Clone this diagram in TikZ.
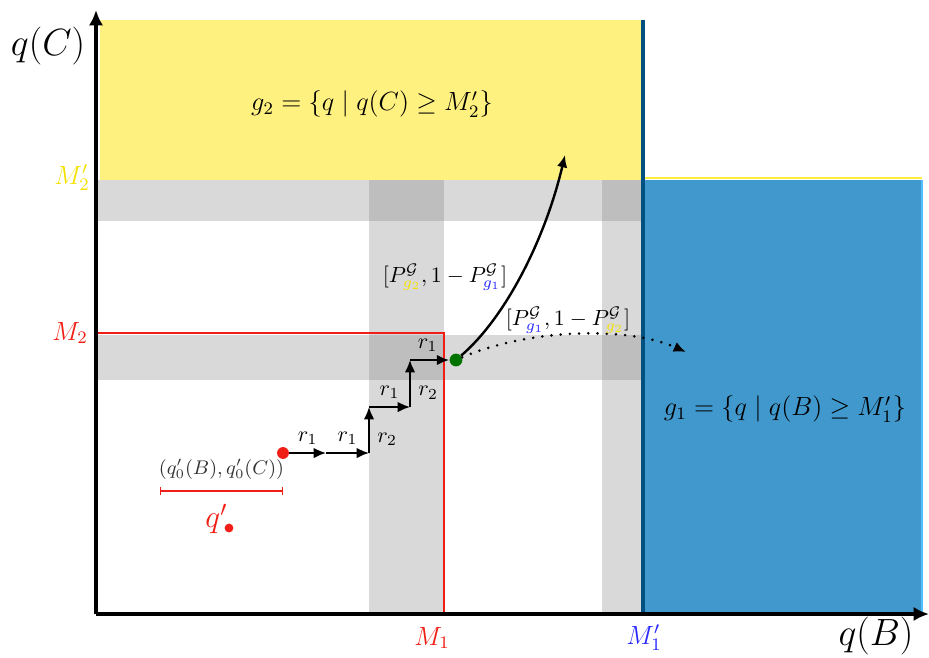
\documentclass[tikz,border=0pt]{standalone}
\usepackage{amsmath}
\usepackage{amssymb}
\usetikzlibrary{positioning,arrows.meta}
\definecolor{gtwofill}{RGB}{255,241,128}
\definecolor{gtwoedge}{RGB}{255,236,60}
\definecolor{gtwotext}{RGB}{245,225,0}
\definecolor{gonefill}{RGB}{65,152,204}
\definecolor{gonedge}{RGB}{0,80,130}
\definecolor{goneside}{RGB}{80,190,255}
\definecolor{gonetext}{RGB}{40,40,255}
\definecolor{dotgreen}{RGB}{0,115,0}
\definecolor{mred}{RGB}{240,30,20}

\begin{document}
\begin{tikzpicture}[x=0.016cm, y=-0.016cm, >={Latex[length=5.6pt,width=4.8pt]},
  band/.style={fill=black!50, fill opacity=0.3},
  axis/.style={-{Latex[length=7pt,width=6.5pt]}, line width=1.4pt},
  stepar/.style={->, line width=0.9pt},
  dot/.style={circle, fill, inner sep=0pt, minimum size=#1},
  every label/.style={inner sep=1pt}]
\useasboundingbox (0,0) rectangle (929,657);
\fill[gtwofill] (100,20) rectangle (641,180);
\fill[gonefill] (643,180) rectangle (922,612);
\draw[gtwoedge, line width=1.3pt] (643,178) -- (922,178);
\draw[goneside, line width=0.8pt] (922,180) -- (922,612);
\fill[band] (96,180) rectangle (641,221);
\fill[band] (96,335) rectangle (641,380);
\fill[band] (369,180) rectangle (444,614);
\fill[band] (602,180) rectangle (641,614);
\draw[mred, line width=1pt] (96,333) -| (444,614);
\draw[gonedge, line width=1.4pt] (643,20) -- (643,614);

\coordinate (o) at (96,614);
\coordinate (ytop) at (96,10);
\coordinate (xend) at (929,614);
\draw[axis] (o) -- (ytop);
\draw[axis] (o) -- (xend);

\node[font=\LARGE] (qc) at (48,46) {$q(C)$};
\node[font=\LARGE] (qb) at (876,636) {$q(B)$};
\node[font=\large, text=gtwotext] (m2p) at (72,178) {$M_2'$};
\node[font=\large, text=mred] (m2) at (70,333) {$M_2$};
\node[font=\large, text=mred] (m1) at (432,638) {$M_1$};
\node[font=\large, text=gonetext] (m1p) at (644,638) {$M_1'$};

\node[font=\large] (g2) at (372,104) {$g_2 = \{q \mid q(C) \geq M_2'\}$};
\node[font=\large] (g1) at (785,409) {$g_1 = \{q \mid q(B) \geq M_1'\}$};

\node[dot=5.4pt, mred] (s0) at (283,453) {};
\coordinate (s1) at (326,453);
\coordinate (s2) at (369,453);
\coordinate (s3) at (369,407);
\coordinate (s4) at (410,407);
\coordinate (s5) at (410,360);
\node[dot=5.8pt, dotgreen] (s6) at (456,360) {};
\draw[stepar] (s0) -- node[above] {$r_1$} (s1);
\draw[stepar] (s1) -- node[above] {$r_1$} (s2);
\draw[stepar] (s2) -- node[right, pos=0.3] {$r_2$} (s3);
\draw[stepar] (s3) -- node[above] {$r_1$} (s4);
\draw[stepar] (s4) -- node[right, pos=0.3] {$r_2$} (s5);
\draw[stepar] (s5) -- node[above, pos=0.45] {$r_1$} (s6);

\coordinate (up) at (565,155);
\coordinate (right) at (686,352);
\draw[->, line width=1.1pt] (s6) .. controls (505,318) and (545,240) .. (up);
\draw[->, line width=1.3pt, line cap=round, dash pattern=on 0pt off 4.2pt] (s6) .. controls (525,330) and (625,325) .. (right);
\node (pup) at (445,277) {$[P^{\mathcal{G}}_{\color{gtwotext}g_2}, 1 - P^{\mathcal{G}}_{\color{gonetext}g_1}]$};
\node (pright) at (568,320) {$[P^{\mathcal{G}}_{\color{gonetext}g_1}, 1 - P^{\mathcal{G}}_{\color{gtwotext}g_2}]$};

\coordinate (ia) at (160,491);
\coordinate (ib) at (283,491);
\draw[mred, {Bar[width=4pt]}-{Bar[width=4pt]}, line width=0.5pt] (ia) -- node[above=1.5pt, text=black!80, font=\small] (q0) {$(q_0'(B), q_0'(C))$} (ib);
\node[dot=4pt, mred] (qp) at (229,528) {};
\node[text=mred, font=\Large, left=-5pt of qp, yshift=4pt] (qpl) {$q'$};
\end{tikzpicture}
\end{document}
